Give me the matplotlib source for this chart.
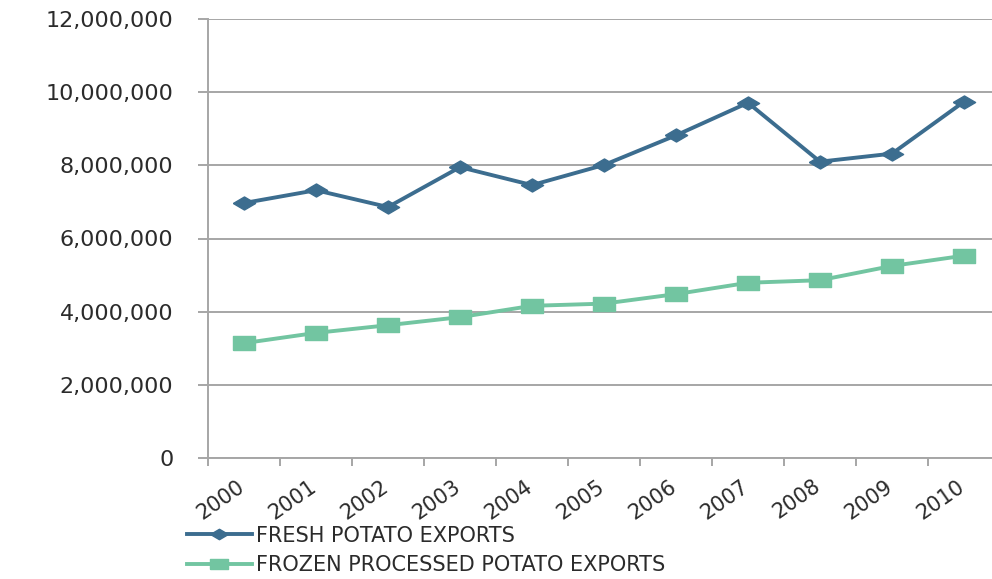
import numpy as np
import matplotlib.pyplot as plt
import matplotlib.transforms as mtransforms
from matplotlib.ticker import FuncFormatter, FixedLocator

# data
years = ['2000', '2001', '2002', '2003', '2004', '2005',
         '2006', '2007', '2008', '2009', '2010']
fresh = [6970000, 7320000, 6860000, 7950000, 7460000, 8010000,
         8820000, 9710000, 8100000, 8320000, 9740000]
frozen = [3140000, 3420000, 3630000, 3850000, 4160000, 4220000,
          4480000, 4790000, 4860000, 5250000, 5530000]

fresh_color = '#3c6d8f'
frozen_color = '#72c5a1'
grid_color = '#a6a6a6'
text_color = '#2b2b2b'

# wide markers to mimic the stretched look of the original
diamond = [(-1.7, 0), (0, 1), (1.7, 0), (0, -1), (-1.7, 0)]
rect = [(-1.7, -1), (1.7, -1), (1.7, 1), (-1.7, 1), (-1.7, -1)]

fig = plt.figure(figsize=(9.92, 5.79), dpi=100)
ax = fig.add_axes([208/992, 1-458/579, 792/992, (458-19)/579])

x = np.arange(len(years))
ax.plot(x, fresh, color=fresh_color, lw=2.8, marker=diamond, ms=16,
        label='FRESH POTATO EXPORTS')
ax.plot(x, frozen, color=frozen_color, lw=2.8, marker=rect, ms=16,
        label='FROZEN PROCESSED POTATO EXPORTS')

ax.set_xlim(-0.5, len(years)-0.5)
ax.set_ylim(0, 12000000)
ax.set_yticks(np.arange(0, 12000001, 2000000))
ax.yaxis.set_major_formatter(FuncFormatter(lambda v, p: f'{int(v):,}'))
ax.yaxis.grid(True, color=grid_color, lw=1.4)
ax.set_axisbelow(True)

ax.set_xticks(x)
ax.set_xticklabels(years, rotation=35, ha='right', va='top',
                   rotation_mode='anchor')
ax.xaxis.set_minor_locator(FixedLocator(np.arange(-0.5, len(years), 1)))
ax.tick_params(axis='x', which='major', length=0, pad=13, labelsize=15,
               labelcolor=text_color)
ax.tick_params(axis='x', which='minor', length=6, width=1.4, color=grid_color)
ax.tick_params(axis='y', length=7, width=1.4, color=grid_color, pad=18,
               labelsize=16, labelcolor=text_color)

# nudge the year labels a little to the left
shift = mtransforms.ScaledTranslation(-0.07, 0, fig.dpi_scale_trans)
for lab in ax.get_xticklabels():
    lab.set_transform(lab.get_transform() + shift)

for s in ['top', 'right']:
    ax.spines[s].set_visible(False)
for s in ['left', 'bottom']:
    ax.spines[s].set_color(grid_color)
    ax.spines[s].set_linewidth(1.4)

fig.legend(loc='upper left', bbox_to_anchor=(187/992, 0.092), frameon=False,
           fontsize=15, labelcolor=text_color, handlelength=3.1,
           handletextpad=0.2, labelspacing=0.45, borderaxespad=0, borderpad=0,
           markerscale=0.8)

fig.savefig('out.png', dpi=100)
